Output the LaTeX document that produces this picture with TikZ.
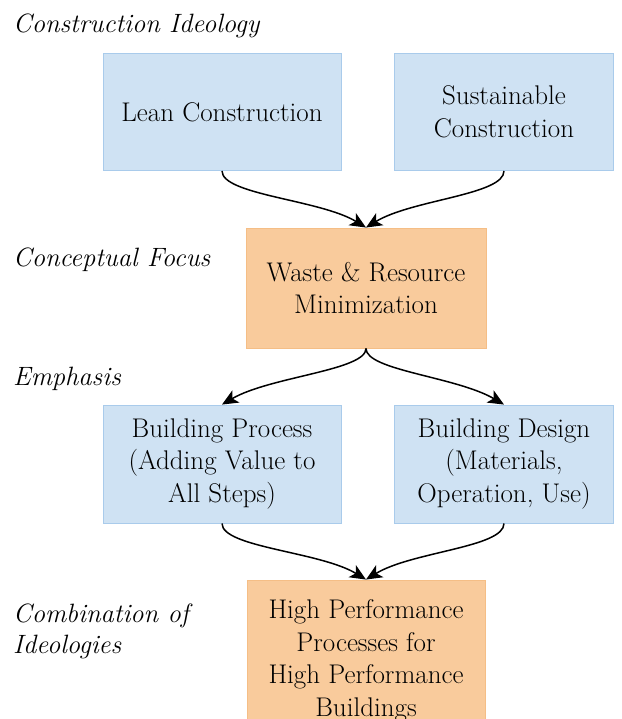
\documentclass[tikz,border=0pt]{standalone}
\usetikzlibrary{arrows.meta}

\definecolor{bluefill}{HTML}{CFE2F3}
\definecolor{blueline}{HTML}{A9CBEB}
\definecolor{orangefill}{HTML}{F9CB9C}
\definecolor{orangeline}{HTML}{F5BE86}

\tikzset{
  box/.style={rectangle, inner sep=0pt, align=center, line width=0.9pt,
    font=\fontsize{27}{32.5}\selectfont},
  bluebox/.style={box, fill=bluefill, draw=blueline},
  orangebox/.style={box, fill=orangefill, draw=orangeline},
  tier/.style={anchor=base west, inner sep=0pt, align=left,
    font=\fontsize{26.5}{31}\selectfont\itshape},
  conn/.style={line width=1.5pt, -{Stealth[length=16pt,width=14pt,inset=4pt]}},
}

\begin{document}
\begin{tikzpicture}[x=1pt, y=-1pt]
  \clip (0,0) rectangle (621,719);
  \fill[white] (0,0) rectangle (621,719);

  % row labels (base anchor sits on the last line's baseline)
  \node[tier] (lblIdeology) at (13,33) {Construction Ideology};
  \node[tier] (lblFocus) at (13,266) {Conceptual Focus};
  \node[tier] (lblEmphasis) at (13,385) {Emphasis};
  \node[tier] (lblCombo) at (13,653) {Combination of\\Ideologies};

  % boxes
  \node[bluebox, minimum width=238pt, minimum height=117pt] (lean) at (222,112)
    {Lean Construction};
  \node[bluebox, minimum width=219pt, minimum height=117pt] (sust) at (504,112)
    {Sustainable\\Construction};
  \node[orangebox, minimum width=240pt, minimum height=120pt] (waste) at (366,288)
    {Waste \& Resource\\Minimization};
  \node[bluebox, minimum width=238pt, minimum height=118pt] (process) at (222,464)
    {Building Process\\(Adding Value to\\All Steps)};
  \node[bluebox, minimum width=219pt, minimum height=118pt] (design) at (504,464)
    {Building Design\\(Materials,\\Operation, Use)};
  \node[orangebox, minimum width=238pt, minimum height=162pt] (hpp) at (366,661)
    {High Performance\\Processes for\\High Performance\\Buildings};

  % connectors
  \draw[conn] (lean.south) .. controls +(0,24) and +(-46,-28) .. (waste.north);
  \draw[conn] (sust.south) .. controls +(0,24) and +(46,-28) .. (waste.north);
  \draw[conn] (waste.south) .. controls +(0,22) and +(48,-28) .. (process.north);
  \draw[conn] (waste.south) .. controls +(0,22) and +(-48,-28) .. (design.north);
  \draw[conn] (process.south) .. controls +(0,24) and +(-46,-28) .. (hpp.north);
  \draw[conn] (design.south) .. controls +(0,24) and +(46,-28) .. (hpp.north);
\end{tikzpicture}
\end{document}
